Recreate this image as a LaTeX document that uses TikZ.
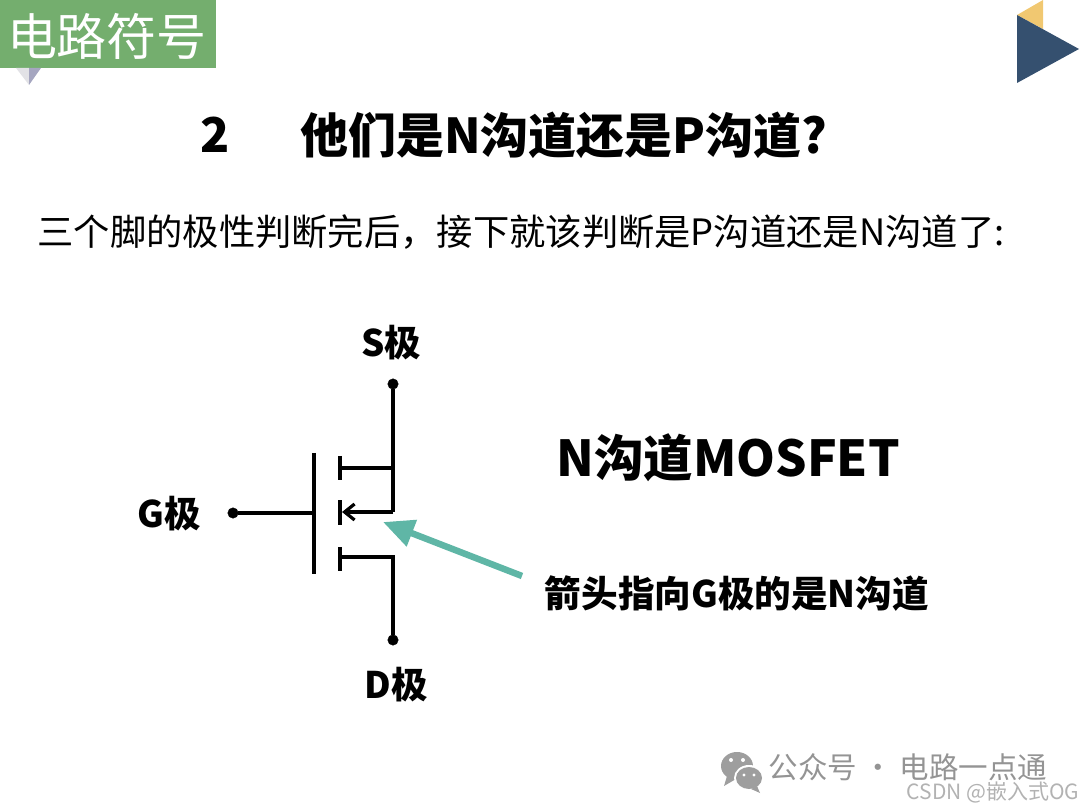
\documentclass[tikz,border=0pt]{standalone}
\usepackage{fontspec}
\setmainfont{Noto Sans CJK SC}
\usepackage{xcolor}
\usetikzlibrary{positioning, arrows.meta}
\definecolor{tagGreen}{HTML}{74AE6E}
\definecolor{tagGrey}{HTML}{E2E2E6}
\definecolor{tagShade}{HTML}{A5A6C0}
\definecolor{cornerBlue}{HTML}{35506F}
\definecolor{cornerGold}{HTML}{F1C871}
\definecolor{arrowTeal}{HTML}{5FB6A6}
\tikzset{heading/.style={
        inner sep=0pt,
        font=\fontsize{48}{48}\selectfont\bfseries
}}
\tikzset{bodytext/.style={
        inner sep=0pt,
        font=\fontsize{36.3}{36}\selectfont
}}
\tikzset{pinlabel/.style={
        inner sep=0pt,
        font=\fontsize{36.6}{36}\selectfont\bfseries
}}
\tikzset{pin/.style={draw, fill, black, circle, inner sep=0pt, minimum size=10.5pt}}
\tikzset{wire/.style={draw, line width=3.2pt}}
\tikzset{plate/.style={draw, line width=3.8pt}}
\tikzset{watermark/.style={inner sep=0pt, font=\fontsize{29.5}{30}\selectfont, text=black!42}}
\begin{document}
\begin{tikzpicture}[x=1pt,y=-1pt,node distance=20pt]
\useasboundingbox (0,0) rectangle (1080,810);
% header
\fill[tagGreen] (0,0) rectangle (216,68);
\fill[tagGrey] (16,68) -- (29,68) -- (29,85) -- cycle;
\fill[tagShade] (29,68) -- (41,68) -- (29,85) -- cycle;
\node[inner sep=0pt, text=white, font=\fontsize{50}{50}\selectfont] (tag) at (107,36) {电路符号};
\fill[cornerGold] (1043,0) -- (1043,29) -- (1017,15) -- cycle;
\fill[cornerBlue] (1017,15) -- (1079,49) -- (1017,83) -- cycle;
% titles
\node[heading] (num) at (215,135) {2};
\node[heading] (title) at (564,135) {他们是N沟道还是P沟道?};
\node[bodytext] (intro) at (521,232) {三个脚的极性判断完后，接下就该判断是P沟道还是N沟道了:};
% symbol
\node[pin] (s) at (393,384) {};
\node[pin] (d) at (393,640) {};
\node[pin] (g) at (233,513) {};
\node[pinlabel] (slabel) at (391,343) {S极};
\node[pinlabel] (glabel) at (169,514) {G极};
\node[pinlabel] (dlabel) at (396,685) {D极};
\coordinate (gtop) at (314,453);
\coordinate (gbot) at (314,574);
\coordinate (gin) at (314,513);
\coordinate (ctop) at (340,468);
\coordinate (cmid) at (340,512);
\coordinate (cbot) at (340,557);
\coordinate (jtop) at (393,468);
\coordinate (jmid) at (393,512);
\coordinate (jbot) at (393,557);
\draw[plate] (gtop) -- (gbot);
\draw[wire] (g) -- (gin);
\draw[plate] (340,456) -- (340,480);
\draw[plate] (340,500) -- (340,525);
\draw[plate] (340,547) -- (340,571);
\draw[wire] (ctop) -- (jtop);
\draw[wire] (cbot) -- (jbot) -- (d);
\draw[wire] (s) -- (jmid);
\draw[wire,-{Straight Barb[length=10pt,width=16pt,line width=3.2pt]}] (jmid) -- (342,512);
% callout
\node[heading, font=\fontsize{49.5}{50}\selectfont\bfseries] (type) at (728,458) {N沟道MOSFET};
\node[pinlabel] (note) at (737,594) {箭头指向G极的是N沟道};
\coordinate (tail) at (522,576);
\coordinate (tip) at (383,522);
\draw[line width=6.5pt, arrowTeal, -{Triangle[length=31pt,width=27pt]}] (tail) -- (tip);
% footer
\fill[black!38] (737,766) ellipse (16 and 14);
\fill[black!38] (727,776) -- (724,786) -- (736,779) -- cycle;
\fill[white] (749,778) ellipse (15 and 13);
\fill[black!38] (749,778) ellipse (13 and 11);
\fill[black!38] (757,786) -- (760,793) -- (751,789) -- cycle;
\fill[white] (731,760) circle (2) (743,760) circle (2) (744,775) circle (1.7) (754,775) circle (1.7);
\node[watermark] (wm) at (908,767) {公众号 · 电路一点通};
\node[watermark, font=\fontsize{21}{21}\selectfont, text=black!30] (csdn) at (993,792) {CSDN @嵌入式OG};
\end{tikzpicture}
\end{document}
